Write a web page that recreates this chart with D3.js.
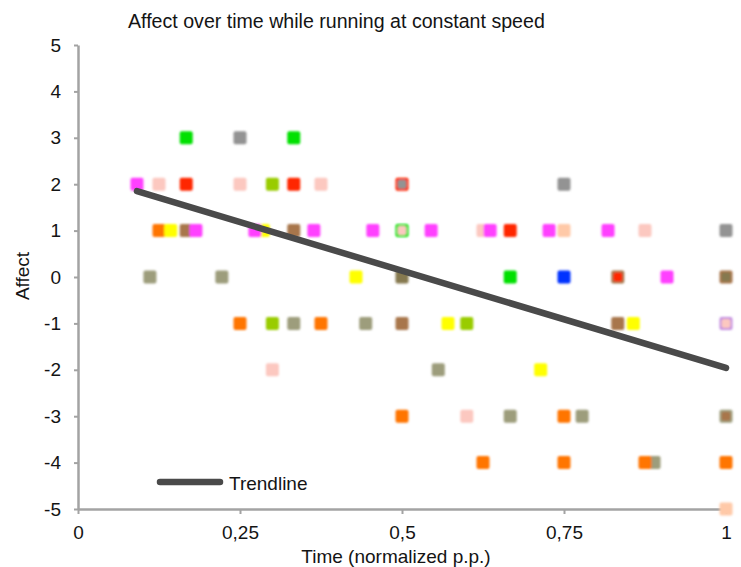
<!DOCTYPE html>
<html>
<head>
<meta charset="utf-8">
<script src="https://cdn.jsdelivr.net/npm/d3@7"></script>
<style>
  body { margin: 0; background: #fff; }
  svg { display: block; font-family: "Liberation Sans", Arial, Helvetica, sans-serif; }
</style>
</head>
<body>
<svg id="chart" width="741" height="567"></svg>
<script>
// ---- Data ----
const xTicks = [0, 0.25, 0.5, 0.75, 1];
const yTicks = [-5, -4, -3, -2, -1, 0, 1, 2, 3, 4, 5];

const oliveGray = [[0.111,0],[0.222,0],[0.333,-1],[0.444,-1],[0.556,-2],[0.667,-3],[0.778,-3],[0.889,-4],[1,-3]];
const lavender = [[1,-1]];
const green = [[0.167,3],[0.333,3],[0.5,1],[0.667,0]];
const brown = [[0.167,1],[0.333,1],[0.5,-1],[0.833,0],[0.833,-1],[1,0],[1,-3]];
const red = [[0.167,2],[0.333,2],[0.5,2],[0.667,1],[0.833,0]];
const gray = [[0.25,3],[0.5,2],[0.75,2],[1,1]];
const khaki = [[0.5,0],[1,0]];
const yellowGreen = [[0.3,2],[0.3,-1],[0.6,-1]];
const lightPink = [[0.125,2],[0.25,2],[0.375,2],[0.5,1],[0.625,1],[0.875,1],[0.3,-2],[0.6,-3],[1,-1]];
const orange = [[0.125,1],[0.25,-1],[0.375,-1],[0.5,-3],[0.625,-4],[0.75,-3],[0.75,-4],[0.875,-4],[1,-4]];
const yellow = [[0.143,1],[0.286,1],[0.429,0],[0.571,-1],[0.714,-2],[0.857,-1]];
const magenta = [[0.091,2],[0.182,1],[0.273,1],[0.364,1],[0.455,1],[0.545,1],[0.636,1],[0.727,1],[0.818,1],[0.909,0]];
const peach = [[0.75,1],[1,-5]];
const blue = [[0.75,0]];

const trendX = [0.091, 1];
const trendY = [1.85, -1.96];

// series in drawing order with colours
const seriesList = [
  {pts: oliveGray, color: "#9d9d7c"},
  {pts: lavender, color: "#c48ee0"},
  {pts: green, color: "#00e000"},
  {pts: brown, color: "#a8764c"},
  {pts: red, color: "#ff2800"},
  {pts: gray, color: "#939393"},
  {pts: khaki, color: "#86794f"},
  {pts: yellowGreen, color: "#99cc00"},
  {pts: lightPink, color: "#fcc8c0"},
  {pts: orange, color: "#ff7400"},
  {pts: yellow, color: "#ffff00"},
  {pts: magenta, color: "#ff40ff"},
  {pts: peach, color: "#ffc9a8"},
  {pts: blue, color: "#0030ff"}
];

// ---- Layout ----
const svg = d3.select("#chart");
const mLeft = 78, mRight = 726, mTop = 45, mBottom = 509;

const x = d3.scaleLinear().domain([0, 1]).range([mLeft, mRight]);
const y = d3.scaleLinear().domain([-5, 5]).range([mBottom, mTop]);

const axisColor = "#a3a3a3";
const textColor = "#141414";
const fmt = d => String(d).replace(".", ",");

// blur filter for soft markers
const defs = svg.append("defs");
defs.append("filter").attr("id", "soft").attr("x", "-30%").attr("y", "-30%").attr("width", "160%").attr("height", "160%")
  .append("feGaussianBlur").attr("stdDeviation", 0.8);

// Title
svg.append("text").attr("x", 128).attr("y", 28)
  .attr("font-size", 19.6).attr("fill", textColor)
  .text("Affect over time while running at constant speed");

// Axes
const yAxis = d3.axisLeft(y).tickValues(yTicks).tickSize(4).tickSizeOuter(0).tickPadding(13).tickFormat(fmt);
const xAxis = d3.axisBottom(x).tickValues(xTicks).tickSize(5).tickSizeOuter(0).tickPadding(12).tickFormat(fmt);

const gy = svg.append("g").attr("transform", `translate(${mLeft},0)`).call(yAxis);
const gx = svg.append("g").attr("transform", `translate(0,${mBottom})`).call(xAxis);
[gx, gy].forEach(g => {
  g.select(".domain").attr("stroke", axisColor).attr("stroke-width", 2.5);
  g.selectAll(".tick line").attr("stroke", axisColor).attr("stroke-width", 2);
  g.selectAll(".tick text").attr("fill", textColor).attr("font-size", 19)
    .attr("font-family", "'Liberation Sans', Arial, sans-serif");
});

// Axis titles
svg.append("text").attr("x", 396).attr("y", 563).attr("text-anchor", "middle")
  .attr("font-size", 19).attr("fill", textColor).text("Time (normalized p.p.)");
svg.append("text").attr("transform", "translate(29,276) rotate(-90)").attr("text-anchor", "middle")
  .attr("font-size", 19).attr("fill", textColor).text("Affect");

// Markers
const seen = new Map();
const marks = [];
seriesList.forEach(s => {
  s.pts.forEach(p => {
    const key = p[0] + "|" + p[1];
    const n = seen.get(key) || 0;
    seen.set(key, n + 1);
    marks.push({x: p[0], y: p[1], color: s.color, size: 13 - 4 * n});
  });
});
svg.append("g").attr("filter", "url(#soft)")
  .selectAll("rect").data(marks).join("rect")
  .attr("x", d => x(d.x) - d.size / 2)
  .attr("y", d => y(d.y) - d.size / 2)
  .attr("width", d => d.size).attr("height", d => d.size)
  .attr("rx", 2)
  .attr("fill", d => d.color);

// Trendline
const trend = trendX.map((v, i) => [v, trendY[i]]);
svg.append("path").datum(trend)
  .attr("d", d3.line().x(d => x(d[0])).y(d => y(d[1])))
  .attr("stroke", "#4a4a4a").attr("stroke-width", 6.5).attr("stroke-linecap", "round").attr("fill", "none");

// Legend
svg.append("line").attr("x1", 160).attr("x2", 220).attr("y1", 482).attr("y2", 482)
  .attr("stroke", "#4a4a4a").attr("stroke-width", 6.5).attr("stroke-linecap", "round");
svg.append("text").attr("x", 229).attr("y", 490).attr("font-size", 19).attr("fill", textColor).text("Trendline");
</script>
</body>
</html>
